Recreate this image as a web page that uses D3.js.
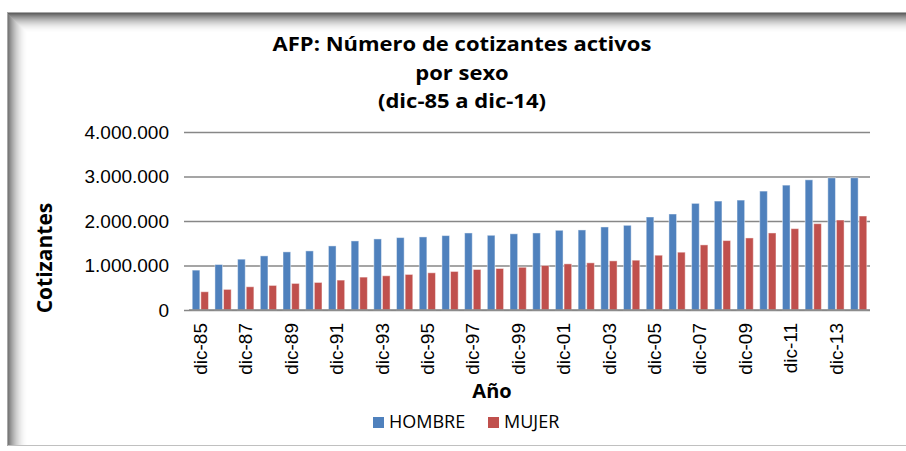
<!DOCTYPE html>
<html>
<head>
<meta charset="utf-8">
<script src="https://cdn.jsdelivr.net/npm/d3@7"></script>
<style>
  body { margin: 0; background: #fff; }
  svg { display: block; }
</style>
</head>
<body>
<div id="chart"></div>
<script>
var years = ["dic-85","dic-86","dic-87","dic-88","dic-89","dic-90","dic-91","dic-92","dic-93","dic-94",
  "dic-95","dic-96","dic-97","dic-98","dic-99","dic-00","dic-01","dic-02","dic-03","dic-04",
  "dic-05","dic-06","dic-07","dic-08","dic-09","dic-10","dic-11","dic-12","dic-13","dic-14"];
var hombre = [896000,1022000,1142000,1216000,1306000,1328000,1440000,1552000,1597000,1627000,
  1642000,1672000,1731000,1679000,1712000,1731000,1791000,1799000,1866000,1903000,
  2090000,2157000,2396000,2448000,2470000,2672000,2806000,2925000,2970000,2972000];
var mujer = [410000,463000,522000,552000,597000,619000,672000,739000,769000,799000,
  836000,866000,910000,933000,960000,1000000,1037000,1060000,1104000,1119000,
  1231000,1299000,1463000,1560000,1619000,1731000,1828000,1940000,2022000,2112000];
var seriesNames = ["HOMBRE", "MUJER"];
var seriesColors = ["#4f81bd", "#c0504d"];
var yTicks = [0, 1000000, 2000000, 3000000, 4000000];
var titleLines = ["AFP: Número de cotizantes activos", "por sexo", "(dic-85 a dic-14)"];

var width = 906, height = 451;
var plot = { left: 189, right: 870, top: 132, bottom: 310 };

var svg = d3.select("#chart").append("svg")
  .attr("width", width)
  .attr("height", height);

// frame with inner shadow on top / left
var frame = svg.append("g");
frame.append("rect")
  .attr("x", 7.5).attr("y", 12.5)
  .attr("width", 920).attr("height", 433)
  .style("fill", "#fff")
  .style("stroke", "#a8a8a8");
d3.range(0, 20).forEach(function(i) {
  var op = 0.62 * Math.pow(1 - i / 20, 2);
  frame.append("line")
    .attr("x1", 8 + i).attr("x2", width)
    .attr("y1", 13 + i + 0.5).attr("y2", 13 + i + 0.5)
    .style("stroke", "#000").style("stroke-opacity", op);
  frame.append("line")
    .attr("x1", 8 + i + 0.5).attr("x2", 8 + i + 0.5)
    .attr("y1", 13 + i + 1).attr("y2", 445)
    .style("stroke", "#000").style("stroke-opacity", op * 0.85);
});
frame.append("line")
  .attr("x1", 8).attr("x2", width)
  .attr("y1", 445.5).attr("y2", 445.5)
  .style("stroke", "#c0c0c0");

// scales
var x0 = d3.scaleBand()
  .domain(years)
  .range([plot.left, plot.right])
  .paddingInner(0.24)
  .paddingOuter(0.12);

var x1 = d3.scaleBand()
  .domain(seriesNames)
  .range([0, x0.bandwidth()]);

var y = d3.scaleLinear()
  .domain([0, 4000000])
  .range([plot.bottom, plot.top]);

var fmt = function(v) {
  return d3.format(",")(v).replace(/,/g, ".");
};

// gridlines + y labels
var yAxis = svg.append("g")
  .attr("transform", "translate(" + plot.left + ",0)")
  .call(d3.axisLeft(y)
    .tickValues(yTicks)
    .tickSize(-(plot.right - plot.left))
    .tickPadding(20)
    .tickFormat(fmt));
yAxis.select(".domain").remove();
yAxis.selectAll(".tick line")
  .attr("x1", -5)
  .style("stroke", "#878787")
  .style("stroke-width", 1.6);
yAxis.selectAll(".tick text")
  .style("font-family", "'Liberation Sans', Arial, sans-serif")
  .style("font-size", "19px")
  .style("fill", "#000");

// bars
var rows = years.map(function(yr, i) {
  return { year: yr, values: [hombre[i], mujer[i]] };
});

var groups = svg.append("g").selectAll("g")
  .data(rows)
  .enter().append("g")
  .attr("transform", function(d) { return "translate(" + x0(d.year) + ",0)"; });

groups.selectAll("rect")
  .data(function(d) {
    return d.values.map(function(v, j) { return { name: seriesNames[j], value: v, j: j }; });
  })
  .enter().append("rect")
  .attr("x", function(d) { return x1(d.name) + 0.5; })
  .attr("y", function(d) { return y(d.value); })
  .attr("width", x1.bandwidth() - 1)
  .attr("height", function(d) { return plot.bottom - y(d.value); })
  .style("fill", function(d) { return seriesColors[d.j]; })
  .style("stroke", "#fff")
  .style("stroke-opacity", 0.45)
  .style("stroke-width", 1);

// baseline on top of bars
svg.append("line")
  .attr("x1", plot.left).attr("x2", plot.right)
  .attr("y1", y(0)).attr("y2", y(0))
  .style("stroke", "#878787")
  .style("stroke-width", 1.6);

// x labels (every second year)
var xAxis = svg.append("g")
  .attr("transform", "translate(0," + plot.bottom + ")")
  .call(d3.axisBottom(x0)
    .tickValues(years.filter(function(d, i) { return i % 2 === 0; }))
    .tickSize(0)
    .tickPadding(0));
xAxis.select(".domain").remove();
xAxis.selectAll(".tick text")
  .attr("transform", "rotate(-90)")
  .attr("x", -13)
  .attr("y", 0)
  .attr("dy", "0.35em")
  .style("text-anchor", "end")
  .style("font-family", "'Liberation Sans', Arial, sans-serif")
  .style("font-size", "19px")
  .style("fill", "#000");

// title (reference text is drawn a bit wider than the font)
var title = svg.append("g");
titleLines.forEach(function(t, i) {
  var line = title.append("text")
    .attr("x", 462)
    .attr("y", 51 + i * 28.5)
    .attr("text-anchor", "middle")
    .style("font-family", "'Open Sans', sans-serif")
    .style("font-weight", "bold")
    .style("font-size", "20px")
    .text(t);
  var w = line.node().getComputedTextLength();
  line.attr("textLength", w * 1.1).attr("lengthAdjust", "spacingAndGlyphs");
});

// axis titles
svg.append("text")
  .attr("transform", "translate(52,258) rotate(-90)")
  .attr("text-anchor", "middle")
  .style("font-family", "'Open Sans', sans-serif")
  .style("font-weight", "bold")
  .style("font-size", "21px")
  .text("Cotizantes");

svg.append("text")
  .attr("x", 492)
  .attr("y", 398)
  .attr("text-anchor", "middle")
  .style("font-family", "'Open Sans', sans-serif")
  .style("font-weight", "bold")
  .style("font-size", "20px")
  .text("Año");

// legend
var legend = svg.append("g");
var legendX = [373, 488];
seriesNames.forEach(function(name, i) {
  legend.append("rect")
    .attr("x", legendX[i]).attr("y", 417)
    .attr("width", 11).attr("height", 11)
    .style("fill", seriesColors[i]);
  legend.append("text")
    .attr("x", legendX[i] + 16)
    .attr("y", 428)
    .style("font-family", "'Open Sans', sans-serif")
    .style("font-size", "18px")
    .text(name);
});
</script>
</body>
</html>
